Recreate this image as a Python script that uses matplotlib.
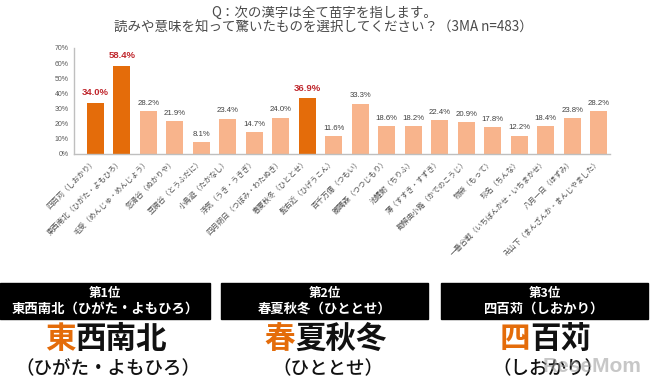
import matplotlib
matplotlib.use("Agg")
import matplotlib.pyplot as plt
from matplotlib.patches import Rectangle

plt.rcParams['font.family'] = ['Noto Sans CJK JP', 'DejaVu Sans']

# ---- data ----
categories = [
    "四百苅（しおかり）", "東西南北（ひがた・よもひろ）", "毛受（めんじゅ・めんじょう）",
    "忽滑谷（ぬかりや）", "豆腐谷（とうふだに）", "小鳥遊（たかなし）",
    "浮気（うき・うきぎ）", "四月朔日（つぼみ・わたぬき）", "春夏秋冬（ひととせ）",
    "髭右近（ひげうこん）", "百千万億（つもい）", "躑躅森（つつじもり）",
    "池鯉鮒（ちりふ）", "薄（すすき・すずき）", "勘解由小路（かでのこうじ）",
    "物袋（もって）", "珍名（ちんな）", "一番合戦（いちばんかせ・いちまかせ）",
    "八月一日（ほずみ）", "卍山下（まんざんか・まんじやました）",
]
values = [34.0, 58.4, 28.2, 21.9, 8.1, 23.4, 14.7, 24.0, 36.9, 11.6,
          33.3, 18.6, 18.2, 22.4, 20.9, 17.8, 12.2, 18.4, 23.8, 28.2]
top3 = [0, 1, 8]
yticks = [0, 10, 20, 30, 40, 50, 60, 70]

title_lines = ["Q：次の漢字は全て苗字を指します。",
               "読みや意味を知って驚いたものを選択してください？（3MA n=483）"]
rank_titles = ["第1位", "第2位", "第3位"]
rank_names = ["東西南北（ひがた・よもひろ）", "春夏秋冬（ひととせ）", "四百苅（しおかり）"]
rank_big = ["東西南北", "春夏秋冬", "四百苅"]
rank_read = ["（ひがた・よもひろ）", "（ひととせ）", "（しおかり）"]

DARK = "#E46C0A"
LIGHT = "#F8B48C"
RED = "#C0272D"
GREY = "#404040"

W, H = 650, 388
fig = plt.figure(figsize=(6.5, 3.88), dpi=100)
fig.patch.set_facecolor("white")

# ---- bar chart ----
ax = fig.add_axes([74 / W, 1 - 154 / H, (610 - 74) / W, (154 - 48) / H])
x = list(range(len(values)))
colors = [DARK if i in top3 else LIGHT for i in x]
bars = ax.bar(x, values, width=0.64, color=colors, zorder=2)
ax.set_xlim(-0.8, 19.43)
ax.set_ylim(0, 70)
ax.set_yticks(yticks)
ax.set_yticklabels([f"{v}%" for v in yticks], family=['Liberation Sans', 'DejaVu Sans'],
                   fontsize=5, color="#595959")
ax.set_xticks(x)
ax.set_xticklabels(categories, rotation=45, ha='right', va='center',
                   rotation_mode='anchor', fontsize=5.3, color="#505050")
ax.tick_params(axis='both', length=0)
ax.tick_params(axis='x', pad=5)
ax.tick_params(axis='y', pad=4)
for s in ['top', 'right']:
    ax.spines[s].set_visible(False)
for s in ['left', 'bottom']:
    ax.spines[s].set_color("#BFBFBF")
    ax.spines[s].set_linewidth(1.0)

for i, (b, v) in enumerate(zip(bars, values)):
    if i in top3:
        ax.annotate(f"{v:.1f}%", (b.get_x() + b.get_width() / 2, v),
                    xytext=(0, 4), textcoords='offset points', ha='center', va='bottom',
                    fontsize=6.8, fontweight='bold', color=RED,
                    family=['Liberation Sans', 'DejaVu Sans'])
    else:
        ax.annotate(f"{v:.1f}%", (b.get_x() + b.get_width() / 2, v),
                    xytext=(0, 3), textcoords='offset points', ha='center', va='bottom',
                    fontsize=5.6, color=GREY,
                    family=['Liberation Sans', 'DejaVu Sans'])

# ---- overlay for title and bottom panels (pixel layout) ----
ov = fig.add_axes([0, 0, 1, 1], zorder=5)
ov.set_xlim(0, W)
ov.set_ylim(H, 0)
ov.axis('off')
ov.patch.set_alpha(0)

ov.text(324, 13, title_lines[0], ha='center', va='center', fontsize=9.7, color="#4a4a4a")
ov.text(323, 28, title_lines[1], ha='center', va='center', fontsize=9.7, color="#4a4a4a")

boxes = [(0, 210), (221, 428), (441, 648)]
big_fs = 22
big_em = big_fs * 100 / 72
for k, (x0, x1) in enumerate(boxes):
    cx = (x0 + x1) / 2
    ov.add_patch(Rectangle((x0, 283), x1 - x0, 36, color="black", zorder=1))
    ov.text(cx, 293.5, rank_titles[k], ha='center', va='center', fontsize=9,
            fontweight='bold', color='white', zorder=2)
    ov.text(cx, 308.5, rank_names[k], ha='center', va='center', fontsize=9.6,
            fontweight='bold', color='white', zorder=2)
    word = rank_big[k]
    start = cx + 1 - len(word) * big_em / 2
    t1 = ov.text(start, 339, word[0], ha='left', va='center', fontsize=big_fs,
                 fontweight='bold', color=DARK, zorder=2)
    ov.annotate(word[1:], xy=(1, 0), xycoords=t1, ha='left', va='bottom',
                fontsize=big_fs, fontweight='bold', color="#111111", zorder=2)
    ov.text(cx + 3, 369, rank_read[k], ha='center', va='center', fontsize=13.3,
            fontweight='medium', color="#111111", zorder=2)

# watermark
ov.text(592, 367, "ReseMom", ha='center', va='center', fontsize=15, fontweight='bold',
        color="#9a9a9a", alpha=0.55, family=['Liberation Sans', 'DejaVu Sans'], zorder=3)

fig.savefig("out.png", dpi=100, facecolor="white")
